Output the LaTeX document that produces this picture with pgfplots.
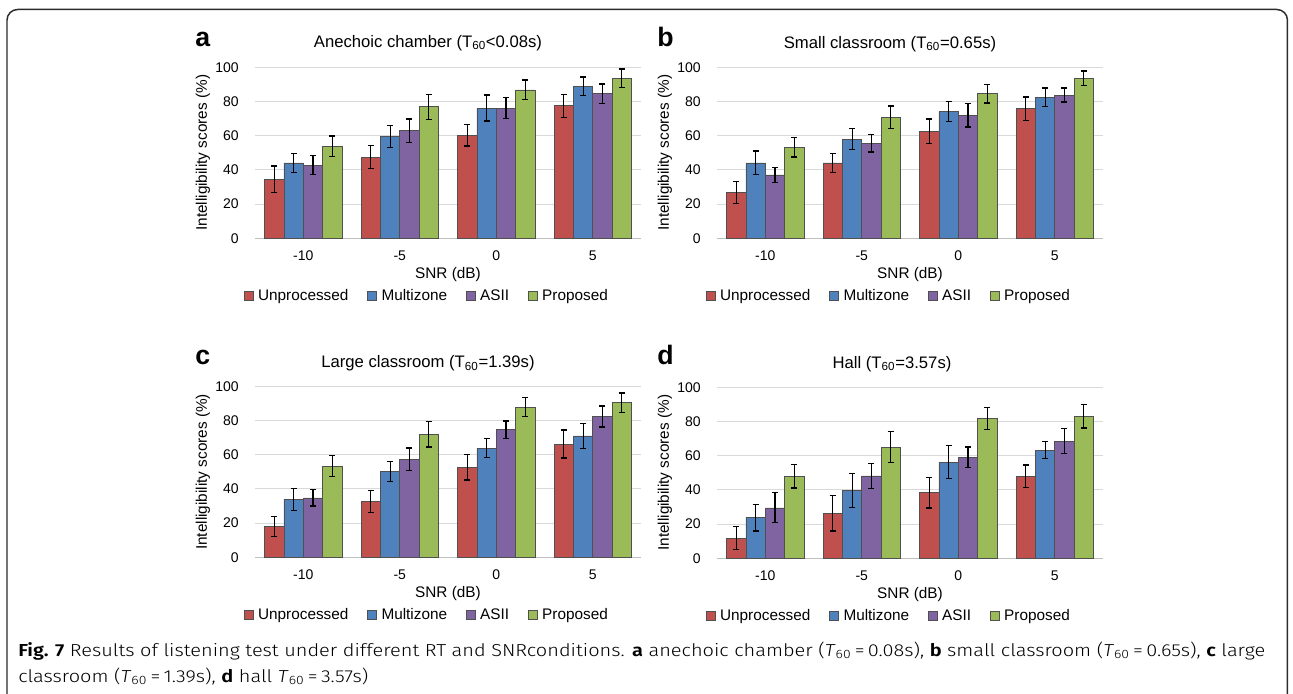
\documentclass[border=0pt]{standalone}
\usepackage{pgfplots}
\pgfplotsset{compat=1.18}
\usepackage{pgfplotstable}
\usepackage{graphicx}
\usepackage{fontspec}
\setmainfont{Liberation Sans}
\newfontfamily\capfont{Fira Sans Light}[BoldFont={Fira Sans SemiBold}, ItalicFont={Fira Sans Light Italic}]

\definecolor{cred}{HTML}{C0504D}
\definecolor{cblue}{HTML}{4F81BD}
\definecolor{cpurple}{HTML}{8064A2}
\definecolor{cgreen}{HTML}{9BBB59}
\definecolor{gridgray}{HTML}{D9D9D9}
\definecolor{axgray}{HTML}{BFBFBF}
\definecolor{bargray}{HTML}{505050}
\definecolor{framegray}{HTML}{2B2B2B}

% x r re b be p pe g ge
\pgfplotstableread{
x r re b be p pe g ge
0 34.6 7.7 44.1 5.4 42.7 5.5 53.8 6.0
1 47.4 6.7 59.6 6.3 62.9 6.9 76.9 7.3
2 60.3 6.3 76.2 7.6 76.2 6.2 86.8 5.8
3 77.5 6.7 88.9 5.4 84.5 5.8 93.6 5.4
}\tA
\pgfplotstableread{
x r re b be p pe g ge
0 26.8 6.3 44.1 6.9 37.1 4.4 53.3 5.7
1 44.1 5.7 58.0 6.2 55.7 5.2 70.7 6.7
2 62.7 7.1 74.0 5.9 71.9 6.8 84.6 5.5
3 75.8 6.8 82.4 5.5 83.8 4.1 93.6 4.3
}\tB
\pgfplotstableread{
x r re b be p pe g ge
0 18.0 5.8 34.0 6.5 34.8 4.8 53.3 6.2
1 32.6 6.4 50.2 6.0 57.4 6.6 72.1 7.6
2 52.7 7.4 63.9 5.4 74.7 5.1 87.8 5.5
3 66.3 8.2 71.0 7.4 82.4 6.1 90.4 5.8
}\tC
\pgfplotstableread{
x r re b be p pe g ge
0 11.7 6.8 23.8 7.8 29.5 8.8 47.9 6.8
1 26.4 10.4 39.8 10.0 48.2 7.2 65.0 9.1
2 38.3 8.9 56.3 9.7 59.2 5.9 81.8 6.3
3 47.9 6.7 63.3 4.8 68.6 7.1 83.0 6.8
}\tD

\pgfplotsset{panel/.style={
  scale only axis, width=289.5pt, height=128.2pt,
  xmin=-0.5, xmax=3.5, ymin=0, ymax=100,
  ybar=0pt, bar width=0.2,
  xtick={0,1,2,3}, xticklabels={-10,-5,0,5},
  ytick={0,20,40,60,80,100},
  ymajorgrids, grid style={draw=gridgray, line width=0.75pt},
  axis x line*=bottom, axis y line*=left,
  x axis line style={draw=axgray, line width=0.75pt},
  y axis line style={draw=none},
  major tick length=0pt,
  /pgf/number format/assume math mode=true,
  tick label style={font=\fontsize{10.5}{12}\selectfont},
  xticklabel style={anchor=base, inner sep=0pt, yshift=-16.3pt},
  yticklabel style={anchor=east, inner sep=0pt, xshift=-12pt},
  xlabel={SNR (dB)}, ylabel={Intelligibility scores (\%)},
  label style={font=\fontsize{11.5}{13}\selectfont},
  xlabel style={at={(axis description cs:0.5,-0.234)}, anchor=base},
  ylabel style={at={(axis description cs:-0.135,0.5)}, anchor=center},
  legend columns=4,
  legend style={at={(-0.03,-0.336)}, anchor=west, draw=none, fill=none, inner sep=0pt,
    font=\fontsize{11.5}{13}\selectfont,
    /tikz/every even column/.append style={column sep=12pt},
    /tikz/every odd column/.append style={column sep=1.5pt}},
  legend image code/.code={\draw[##1, draw=bargray, line width=0.5pt] (0pt,-3.4pt) rectangle (6.8pt,3.4pt);},
  error bars/y dir=both, error bars/y explicit,
  error bars/error mark=|,
  error bars/error mark options={mark size=2.3pt, line width=0.9pt, black},
  error bars/error bar style={line width=0.9pt, black},
}}

\newcommand\panelplots[1]{%
  \addplot[fill=cred, draw=bargray, line width=0.5pt] table[x=x, y=r, y error=re] {#1};
  \addplot[fill=cblue, draw=bargray, line width=0.5pt] table[x=x, y=b, y error=be] {#1};
  \addplot[fill=cpurple, draw=bargray, line width=0.5pt] table[x=x, y=p, y error=pe] {#1};
  \addplot[fill=cgreen, draw=bargray, line width=0.5pt] table[x=x, y=g, y error=ge] {#1};
  \legend{Unprocessed, Multizone, ASII, Proposed}
}

\newsavebox\capone
\newsavebox\captwo

\begin{document}
\sbox\capone{\capfont\fontsize{13}{15}\selectfont\textbf{Fig. 7} Results of listening test under different RT and SNRconditions. \textbf{a} anechoic chamber (\textit{T}\textsubscript{60}\,=\,0.08s), \textbf{b} small classroom (\textit{T}\textsubscript{60}\,=\,0.65s), \textbf{c} large}%
\sbox\captwo{\capfont\fontsize{13}{15}\selectfont classroom (\textit{T}\textsubscript{60}\,=\,1.39s), \textbf{d} hall \textit{T}\textsubscript{60}\,=\,3.57s)}%
\pgfmathsetmacro\capsc{935.25/\the\wd\capone}%
\begin{tikzpicture}
\useasboundingbox (0pt,0pt) rectangle (969.75pt,-519.75pt);
\fill[white] (0pt,0pt) rectangle (969.75pt,-519.75pt);

\draw[line width=1.1pt, framegray, rounded corners=8pt]
  (5.25pt,-530pt) -- (5.25pt,-7.1pt) -- (965.6pt,-7.1pt) -- (965.6pt,-530pt);

\begin{axis}[panel, at={(191.25pt,-178.7pt)}, anchor=south west]
\panelplots{\tA}
\end{axis}
\begin{axis}[panel, at={(537.75pt,-178.7pt)}, anchor=south west]
\panelplots{\tB}
\end{axis}
\begin{axis}[panel, at={(191.25pt,-418pt)}, anchor=south west]
\panelplots{\tC}
\end{axis}
\begin{axis}[panel, at={(537.75pt,-418.7pt)}, anchor=south west]
\panelplots{\tD}
\end{axis}

% panel letters
\begin{scope}[every node/.style={inner sep=0pt, font=\fontsize{20}{22}\selectfont\bfseries}]
\node[anchor=base west] at (146.25pt,-35.2pt) {a};
\node[anchor=base west] at (492.75pt,-35pt) {b};
\node[anchor=base west] at (146.25pt,-273pt) {c};
\node[anchor=base west] at (492.75pt,-273pt) {d};
\end{scope}
% titles
\begin{scope}[every node/.style={inner sep=0pt, anchor=base, font=\fontsize{12.5}{14}\selectfont}]
\node at (321pt,-35.5pt) {Anechoic chamber (T\textsubscript{60}<0.08s)};
\node at (667.5pt,-36.2pt) {Small classroom (T\textsubscript{60}=0.65s)};
\node at (321pt,-275.8pt) {Large classroom (T\textsubscript{60}=1.39s)};
\node at (669pt,-276.2pt) {Hall (T\textsubscript{60}=3.57s)};
\end{scope}

% caption
\node[anchor=base west, inner sep=0pt] at (13.5pt,-492pt) {\scalebox{\capsc}[1]{\usebox\capone}};
\node[anchor=base west, inner sep=0pt] at (13.5pt,-511.5pt) {\scalebox{\capsc}[1]{\usebox\captwo}};
\end{tikzpicture}
\end{document}
